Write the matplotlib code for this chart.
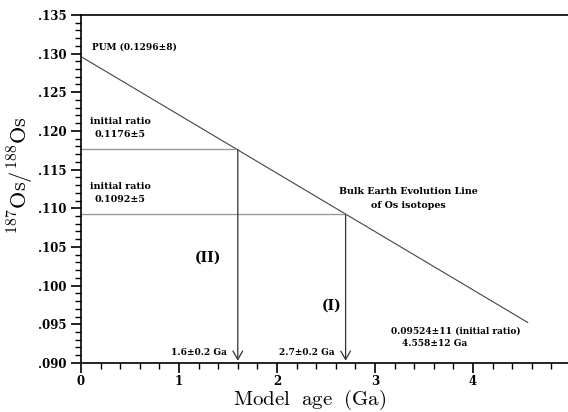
import numpy as np
import matplotlib
matplotlib.use('Agg')
import matplotlib.pyplot as plt
from matplotlib.ticker import MultipleLocator

plt.rcParams['mathtext.fontset'] = 'cm'

# bulk earth evolution line (PUM today -> initial ratio at 4.558 Ga)
bulk_age = [0.0, 4.558]
bulk_ratio = [0.1296, 0.09524]

# model ages
model_ages = [2.7, 1.6]
model_ratios = [0.1092, 0.1176]
model_names = ['(I)', '(II)']
age_labels = ['2.7\u00b10.2 Ga', '1.6\u00b10.2 Ga']
ratio_labels = ['initial ratio\n0.1092\u00b15', 'initial ratio\n0.1176\u00b15']

fig = plt.figure(figsize=(5.68, 4.12), dpi=100)
ax = fig.add_axes([0.1426, 0.119, 0.8627, 0.845])

bold = dict(family='DejaVu Serif', weight='bold')

ax.plot(bulk_age, bulk_ratio, color='#444444', lw=0.8)

for age, r, name, al, rl in zip(model_ages, model_ratios, model_names, age_labels, ratio_labels):
    ax.plot([0, age], [r, r], color='#999999', lw=1.0)
    ax.annotate('', xy=(age, 0.0903), xytext=(age, r),
                arrowprops=dict(arrowstyle='->,head_length=0.6,head_width=0.35',
                                color='#333333', lw=0.9, shrinkA=0, shrinkB=0))
    ax.text(age - 0.40, 0.0913, al, fontsize=6.5, ha='center', va='center', **bold)
    ax.text(0.40, r + 0.0028, rl, fontsize=6.8, ha='center', va='center',
            linespacing=1.5, **bold)

ax.text(model_ages[0] - 0.14, 0.0974, model_names[0], fontsize=10, ha='center', va='center', **bold)
ax.text(model_ages[1] - 0.30, 0.1036, model_names[1], fontsize=10, ha='center', va='center', **bold)

ax.text(0.11, 0.1309, 'PUM (0.1296\u00b18)', fontsize=6.5, ha='left', va='center', **bold)
ax.text(3.34, 0.1121, 'Bulk Earth Evolution Line', fontsize=6.8, ha='center', va='center', **bold)
ax.text(3.34, 0.1104, 'of Os isotopes', fontsize=6.8, ha='center', va='center', **bold)
ax.text(3.16, 0.0941, '0.09524\u00b111 (initial ratio)', fontsize=6.5, ha='left', va='center', **bold)
ax.text(3.28, 0.0925, '4.558\u00b112 Ga', fontsize=6.5, ha='left', va='center', **bold)

ax.set_xlim(0, 5)
ax.set_ylim(0.090, 0.135)
ax.xaxis.set_major_locator(MultipleLocator(1))
ax.xaxis.set_minor_locator(MultipleLocator(0.2))
ax.yaxis.set_major_locator(MultipleLocator(0.005))
ax.yaxis.set_minor_locator(MultipleLocator(0.001))
ax.yaxis.set_major_formatter(plt.FuncFormatter(lambda v, p: ('%.3f' % v)[1:]))
ax.tick_params(which='major', length=7, width=1.2, direction='out')
ax.tick_params(which='minor', length=4, width=1.0, direction='out')
ax.tick_params(axis='x', which='major', pad=1.5)
ax.tick_params(top=False, right=False)
for lab in ax.get_xticklabels() + ax.get_yticklabels():
    lab.set_family('DejaVu Serif')
    lab.set_weight('bold')
    lab.set_fontsize(8.5)
for s in ax.spines.values():
    s.set_linewidth(1.2)

fig.text(310 / 568, 1 - 400 / 412, r'$\mathrm{Model\ \ age\ \ (Ga)}$', fontsize=15,
         ha='center', va='center')
fig.text(21 / 568, 1 - 175 / 412, r'$^{187}\mathrm{Os}/^{188}\mathrm{Os}$', fontsize=16,
         ha='center', va='center', rotation=90)

fig.savefig('out.png', dpi=100)
